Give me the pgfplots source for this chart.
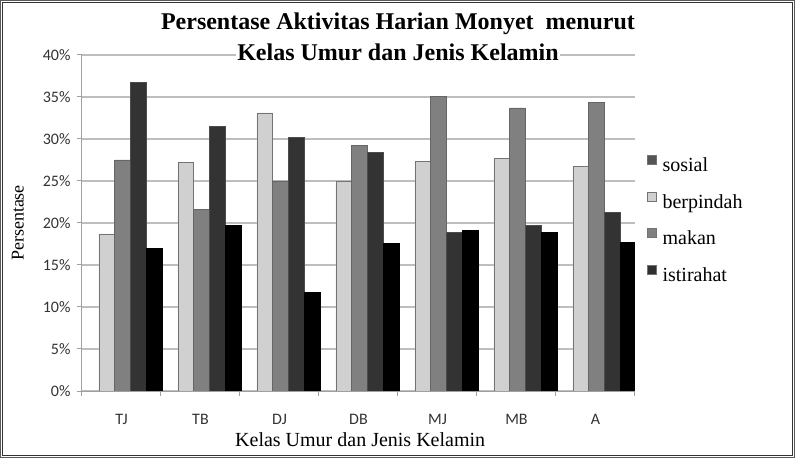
\documentclass[border=0pt]{standalone}
\usepackage{fontspec}
\setmainfont{Liberation Serif}
\newfontfamily\carlito{Carlito}
\usepackage{pgfplots}
\pgfplotsset{compat=1.18}
\definecolor{cLight}{HTML}{D0D0D0}
\definecolor{cMid}{HTML}{808080}
\definecolor{cDark}{HTML}{333333}
\definecolor{cBlack}{HTML}{000000}
\definecolor{gridc}{HTML}{BEBEBE}
\definecolor{axc}{HTML}{A0A0A0}
\definecolor{legSos}{HTML}{555555}
\definecolor{legIst}{HTML}{303030}
\begin{document}
\begin{tikzpicture}
\useasboundingbox (-82bp,-67bp) rectangle (713bp,391bp);
\begin{axis}[
  at={(0,0)}, anchor=south west, scale only axis,
  width=553bp, height=336bp,
  xmin=-0.5, xmax=6.5, ymin=0, ymax=40,
  axis x line*=bottom, axis y line*=left,
  axis line style={draw=axc, line width=1bp, -},
  xtick={-0.5,0.5,...,6.5}, xticklabels={,,,,,,,,},
  extra x ticks={0,1,2,3,4,5,6},
  extra x tick labels={TJ,TB,DJ,DB,MJ,MB,A},
  extra x tick style={grid=none, major tick length=0pt, xticklabel style={yshift=-20bp}},
  ytick={0,5,...,40},
  yticklabel={\pgfmathprintnumber{\tick}\%},
  yticklabel style={xshift=-3bp},
  /pgf/number format/assume math mode=true,
  tick align=outside, major tick length=5bp,
  tick style={draw=axc, line width=1bp},
  ymajorgrids, major grid style={draw=gridc, line width=1.1bp},
  tick label style={font=\carlito\fontsize{16bp}{18bp}\selectfont, text=black!80},
  xlabel={Kelas Umur dan Jenis Kelamin},
  xlabel style={at={(axis description cs:0.503,-0.146)}, anchor=center, font=\fontsize{20bp}{24bp}\selectfont},
  ylabel={Persentase},
  ylabel style={at={(axis description cs:-0.116,0.5)}, anchor=center, font=\fontsize{18bp}{22bp}\selectfont},
  legend image code/.code={\draw[#1, draw=black!55, line width=0.6bp] (0bp,2.5bp) rectangle (9bp,11.5bp);},
  legend cell align=left,
  legend style={draw=none, fill=none, at={(1.0217,0.508)}, anchor=west, inner sep=0pt, outer sep=0pt,
    font=\fontsize{20bp}{23bp}\selectfont, row sep=16bp, column sep=6bp,
    nodes={inner sep=0pt, text height=13.5bp, text depth=4bp}},
]
\addlegendimage{fill=legSos}\addlegendentry{sosial}
\addlegendimage{fill=cLight}\addlegendentry{berpindah}
\addlegendimage{fill=cMid}\addlegendentry{makan}
\addlegendimage{fill=legIst}\addlegendentry{istirahat}
% berpindah
\addplot[forget plot, ybar, bar width=0.2, bar shift=-0.185, fill=cLight, draw=black!55, line width=0.6bp]
  coordinates {(0,18.7) (1,27.2) (2,33.1) (3,24.95) (4,27.3) (5,27.7) (6,26.7)};
% makan
\addplot[forget plot, ybar, bar width=0.2, bar shift=0.015, fill=cMid, draw=black!60, line width=0.6bp]
  coordinates {(0,27.5) (1,21.6) (2,25.0) (3,29.2) (4,35.1) (5,33.7) (6,34.4)};
% sosial
\addplot[forget plot, ybar, bar width=0.2, bar shift=0.215, fill=cDark, draw=black!70, line width=0.6bp]
  coordinates {(0,36.7) (1,31.5) (2,30.2) (3,28.45) (4,18.85) (5,19.7) (6,21.3)};
% istirahat
\addplot[forget plot, ybar, bar width=0.2, bar shift=0.415, fill=cBlack, draw=black, line width=0.6bp]
  coordinates {(0,17.0) (1,19.7) (2,11.7) (3,17.6) (4,19.1) (5,18.9) (6,17.7)};
\end{axis}
\node[font=\bfseries\fontsize{24bp}{28bp}\selectfont] at (316bp,367bp) {Persentase Aktivitas Harian Monyet\ \ menurut};
\node[font=\bfseries\fontsize{24bp}{28bp}\selectfont, fill=white, inner sep=1bp] at (316bp,339bp) {Kelas Umur dan Jenis Kelamin};
\draw[line width=1bp, black!65] (-81.5bp,-66.5bp) rectangle (712.5bp,390.5bp);
\draw[line width=1bp, black!80] (-79bp,-64bp) rectangle (710bp,388bp);
\end{tikzpicture}
\end{document}
